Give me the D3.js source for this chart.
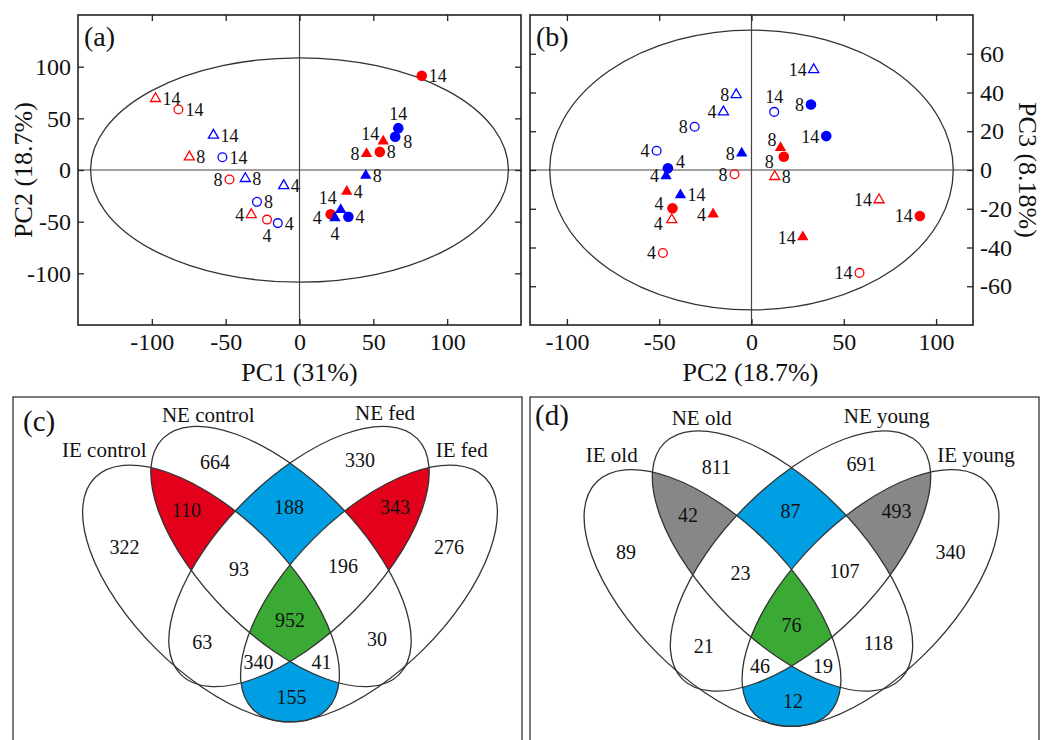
<!DOCTYPE html>
<html>
<head>
<meta charset="utf-8">
<script src="https://cdn.jsdelivr.net/npm/d3@7"></script>
<style>
  body { margin: 0; background: #fff; }
  svg text { font-family: "Liberation Serif", "Times New Roman", serif !important; fill: #111; }
</style>
</head>
<body>
<svg id="chart" width="1041" height="740"></svg>
<script>
// ---- PCA scores (each series: day 4, day 8, day 14) ----
const days = ["4", "8", "14"]
const seriesKeys = [
  "redFilledCircle", "redFilledTriangle", "redOpenCircle", "redOpenTriangle",
  "blueFilledCircle", "blueFilledTriangle", "blueOpenCircle", "blueOpenTriangle"
]
const pc1 = [
  [21.1, 54.4, 82.8], [32, 45.4, 56.7], [-22, -47.4, -82], [-32.7, -74.6, -97.5],
  [33.1, 64.8, 66.9], [24, 44.9, 27.9], [-14.7, -28.8, -52.2], [-10.7, -36.7, -58.3]
]
const pc2 = [
  [-42.8, 17.5, 91.2], [-20.8, 15.7, 27.8], [-48, -9.2, 58.5], [-43.2, 12.6, 69.1],
  [-45.3, 32.2, 40.5], [-46.3, -5.3, -38.5], [-51.4, -30.8, 12.3], [-15.2, -8.3, 33.7]
]
const pc3 = [
  [-19.7, 6.8, -23.7], [-22.8, 11.5, -34.6], [-42.8, -2.2, -53.1], [-25.7, -3.4, -15.4],
  [0.9, 33.8, 17.5], [-3.1, 8.6, -12.9], [9.9, 22.3, 30], [30, 38.9, 51.8]
]
const pcaTicks = [-100, -50, 0, 50, 100]
const pc3Ticks = [-60, -40, -20, 0, 20, 40, 60]

// ---- Venn counts ----
const vennCSets = ["IE control", "NE control", "NE fed", "IE fed"]
const vennCCounts = [664, 330, 110, 188, 343, 322, 276, 93, 196, 952, 63, 30, 340, 41, 155]
const vennDSets = ["IE old", "NE old", "NE young", "IE young"]
const vennDCounts = [811, 691, 42, 87, 493, 89, 340, 23, 107, 76, 21, 118, 46, 19, 12]
// which sets each region belongs to (same order as the counts)
const vennRegions = [[1], [2], [0, 1], [1, 2], [2, 3], [0], [3], [0, 1, 2], [1, 2, 3],
  [0, 1, 2, 3], [0, 2], [1, 3], [0, 2, 3], [0, 1, 3], [0, 3]]

// ---- styles / layout ----
const seriesColor = ["#ff0000", "#ff0000", "#ff0000", "#ff0000", "#0000ff", "#0000ff", "#0000ff", "#0000ff"]
const seriesShape = ["circle", "triangle", "circle", "triangle", "circle", "triangle", "circle", "triangle"]
const seriesFilled = [true, true, false, false, true, true, false, false]
const labelSidesA = [["ld", "r", "r"], ["r", "l", "lt"], ["b", "l", "r"], ["l", "r", "r"],
  ["r", "rb", "t"], ["b", "r", "lT"], ["r", "r", "r"], ["r", "r", "r"]]
const labelSidesB = [["lu", "lb", "l"], ["l", "lt", "l"], ["l", "l", "l"], ["lD", "r", "l"],
  ["rt", "l", "l"], ["l", "l", "r"], ["l", "l", "t"], ["l", "l", "l"]]
const labelOffsets = {
  r: [7, 0, "start"], l: [-7, 0, "end"], t: [0, -15, "middle"], b: [0, 16, "middle"],
  lt: [-4, -8, "end"], lT: [-4, -12, "end"], lb: [-10, 5, "end"], rt: [8, -7, "start"],
  rb: [8, 5, "start"], lu: [-9, -5, "end"], ld: [-9, 3, "end"], lD: [-9, 4, "end"]
}

const svg = d3.select("#chart")
const ink = "#222"
const serif = "'Liberation Serif', 'Times New Roman', serif"

function drawPca(cfg) {
  const g = svg.append("g")
  const x = d3.scaleLinear().domain(cfg.xDomain).range([cfg.left, cfg.right])
  const y = d3.scaleLinear().domain(cfg.yDomain).range([cfg.bottom, cfg.top])

  // zero lines
  g.append("line").attr("x1", x(0)).attr("x2", x(0)).attr("y1", cfg.top).attr("y2", cfg.bottom)
    .attr("stroke", "#444").attr("stroke-width", 1.2)
  g.append("line").attr("x1", cfg.left).attr("x2", cfg.right).attr("y1", y(0)).attr("y2", y(0))
    .attr("stroke", "#444").attr("stroke-width", 1.2)

  // confidence ellipse
  g.append("ellipse").attr("cx", x(0)).attr("cy", y(0))
    .attr("rx", x(cfg.ellipse[0]) - x(0)).attr("ry", y(0) - y(cfg.ellipse[1]))
    .attr("fill", "none").attr("stroke", "#333").attr("stroke-width", 1.3)

  // axes, ticks on all four sides pointing inward
  const fmt = (d) => String(d)
  const axes = [
    [d3.axisBottom(x).tickValues(cfg.xTicks).tickFormat(fmt), `translate(0,${cfg.bottom})`],
    [d3.axisTop(x).tickValues(cfg.xTicks).tickFormat(""), `translate(0,${cfg.top})`],
    [d3.axisLeft(y).tickValues(cfg.yTicks).tickFormat(cfg.yLabelSide === "left" ? fmt : ""), `translate(${cfg.left},0)`],
    [d3.axisRight(y).tickValues(cfg.yTicks).tickFormat(cfg.yLabelSide === "right" ? fmt : ""), `translate(${cfg.right},0)`]
  ]
  axes.forEach(([ax, tr], k) => {
    const a = g.append("g").attr("transform", tr)
      .call(ax.tickSizeInner(-6).tickSizeOuter(0).tickPadding(k === 0 ? 8 : 7))
    a.attr("font-family", serif)
    a.select(".domain").remove()
    a.selectAll("line").attr("stroke", ink).attr("stroke-width", 1.3)
    a.selectAll("text").attr("font-size", 24).style("font-family", serif).attr("fill", "#111")
  })

  g.append("rect").attr("x", cfg.left).attr("y", cfg.top)
    .attr("width", cfg.right - cfg.left).attr("height", cfg.bottom - cfg.top)
    .attr("fill", "none").attr("stroke", ink).attr("stroke-width", 1.6)

  // points
  const pts = []
  seriesKeys.forEach((key, i) => days.forEach((day, j) => {
    pts.push({ i, day, vx: cfg.xVals[i][j], vy: cfg.yVals[i][j], side: cfg.sides[i][j] })
  }))
  g.selectAll("path.pt").data(pts).join("path")
    .attr("class", "pt")
    .attr("transform", (p) => `translate(${x(p.vx)},${y(p.vy)})`)
    .attr("d", (p) => {
      const circ = seriesShape[p.i] === "circle"
      const size = circ ? (seriesFilled[p.i] ? 88 : 60) : (seriesFilled[p.i] ? 56 : 44)
      return d3.symbol(circ ? d3.symbolCircle : d3.symbolTriangle, size)()
    })
    .attr("fill", (p) => (seriesFilled[p.i] ? seriesColor[p.i] : "none"))
    .attr("stroke", (p) => (seriesFilled[p.i] ? "none" : seriesColor[p.i]))
    .attr("stroke-width", 1.3)

  g.selectAll("text.lbl").data(pts).join("text")
    .attr("class", "lbl")
    .attr("x", (p) => x(p.vx) + labelOffsets[p.side][0])
    .attr("y", (p) => y(p.vy) + labelOffsets[p.side][1])
    .attr("dy", "0.36em")
    .attr("text-anchor", (p) => labelOffsets[p.side][2])
    .attr("font-size", 18)
    .text((p) => p.day)

  // titles
  g.append("text").attr("x", (cfg.left + cfg.right) / 2 + cfg.xTitleShift).attr("y", cfg.bottom + 56)
    .attr("text-anchor", "middle").attr("font-size", 26).text(cfg.xTitle)
  g.append("text")
    .attr("transform", `translate(${cfg.yTitleX},${y(0)}) rotate(${cfg.yLabelSide === "left" ? -90 : 90})`)
    .attr("text-anchor", "middle").attr("dy", "0.35em").attr("font-size", 26).text(cfg.yTitle)
  g.append("text").attr("x", cfg.left + 6).attr("y", cfg.top + 31).attr("font-size", 28).text(cfg.tag)
}

drawPca({
  left: 78, right: 521, top: 15, bottom: 325,
  xDomain: [-150, 150], yDomain: [-150, 150], xTicks: pcaTicks, yTicks: pcaTicks,
  xVals: pc1, yVals: pc2, sides: labelSidesA, ellipse: [141.5, 108.6],
  yLabelSide: "left", xTitle: "PC1 (31%)", yTitle: "PC2 (18.7%)", yTitleX: 23, xTitleShift: 0, tag: "(a)"
})
drawPca({
  left: 530, right: 973, top: 15, bottom: 325,
  xDomain: [-120, 120], yDomain: [-80, 80], xTicks: pcaTicks, yTicks: pc3Ticks,
  xVals: pc2, yVals: pc3, sides: labelSidesB, ellipse: [109.3, 72.2],
  yLabelSide: "right", xTitle: "PC2 (18.7%)", yTitle: "PC3 (8.18%)", yTitleX: 1028, xTitleShift: -1, tag: "(b)"
})

// ---- Venn panels ----
const vennEllipses = [
  { cx: -0.79, cy: 0.305, a: 1.64, b: 0.78, rot: 45 },
  { cx: -0.09, cy: -0.065, a: 1.67, b: 0.775, rot: 45 },
  { cx: 0.09, cy: -0.065, a: 1.67, b: 0.775, rot: -45 },
  { cx: 0.79, cy: 0.305, a: 1.64, b: 0.78, rot: -45 }
]
const vennCountPos = [
  [-0.75, -1.01], [0.7, -1.035], [-1.035, -0.53], [-0.01, -0.565], [1.05, -0.565],
  [-1.655, -0.158], [1.59, -0.158], [-0.51, 0.058], [0.53, 0.03], [0, 0.572],
  [-0.877, 0.785], [0.87, 0.755], [-0.315, 0.985], [0.315, 0.985], [0.015, 1.335]
]

function drawVenn(cfg) {
  const g = svg.append("g")
  const vx = d3.scaleLinear().domain([0, 1]).range([cfg.ox, cfg.ox + 100])
  const vy = d3.scaleLinear().domain([0, 1]).range([cfg.oy, cfg.oy + 100])
  const defs = g.append("defs")
  const unit = vx(1) - vx(0)

  const addEllipse = (sel, e) => sel.append("ellipse")
    .attr("cx", vx(e.cx)).attr("cy", vy(e.cy))
    .attr("rx", e.a * unit).attr("ry", e.b * unit)
    .attr("transform", `rotate(${e.rot},${vx(e.cx)},${vy(e.cy)})`)

  vennEllipses.forEach((e, k) => {
    addEllipse(defs.append("clipPath").attr("id", `${cfg.id}-clip-${k}`), e)
  })

  // coloured regions: inside the member sets, outside the rest
  cfg.fills.forEach((color, r) => {
    if (!color) return
    const members = vennRegions[r]
    const mask = defs.append("mask").attr("id", `${cfg.id}-mask-${r}`)
      .attr("maskUnits", "userSpaceOnUse").attr("x", cfg.box[0]).attr("y", cfg.box[1])
      .attr("width", cfg.box[2]).attr("height", cfg.box[3])
    mask.append("rect").attr("x", cfg.box[0]).attr("y", cfg.box[1])
      .attr("width", cfg.box[2]).attr("height", cfg.box[3]).attr("fill", "white")
    vennEllipses.forEach((e, k) => {
      if (!members.includes(k)) addEllipse(mask, e).attr("fill", "black")
    })
    let node = g
    members.forEach((k) => { node = node.append("g").attr("clip-path", `url(#${cfg.id}-clip-${k})`) })
    node.append("rect").attr("x", cfg.box[0]).attr("y", cfg.box[1])
      .attr("width", cfg.box[2]).attr("height", cfg.box[3])
      .attr("fill", color).attr("mask", `url(#${cfg.id}-mask-${r})`)
  })

  vennEllipses.forEach((e) => {
    addEllipse(g, e).attr("fill", "none").attr("stroke", "#333").attr("stroke-width", 1.3)
  })

  g.selectAll("text.count").data(cfg.counts).join("text")
    .attr("class", "count")
    .attr("x", (d, i) => vx(vennCountPos[i][0]))
    .attr("y", (d, i) => vy(vennCountPos[i][1]))
    .attr("dy", "0.35em").attr("text-anchor", "middle").attr("font-size", 20)
    .text((d) => d)

  g.selectAll("text.set").data(cfg.sets).join("text")
    .attr("class", "set")
    .attr("x", (d, i) => vx(cfg.setPos[i][0]))
    .attr("y", (d, i) => vy(cfg.setPos[i][1]))
    .attr("dy", "0.35em").attr("text-anchor", "middle").attr("font-size", 21)
    .text((d) => d)

  g.append("rect").attr("x", cfg.box[0]).attr("y", cfg.box[1])
    .attr("width", cfg.box[2]).attr("height", cfg.box[3])
    .attr("fill", "none").attr("stroke", "#333").attr("stroke-width", 1.3)
  g.append("text").attr("x", cfg.tagPos[0]).attr("y", cfg.tagPos[1]).attr("font-size", 29).text(cfg.tag)
}

const red = "#e3001b", blue = "#009fe3", green = "#3aaa35", grey = "#878787"
drawVenn({
  id: "vc", ox: 290, oy: 563, box: [13, 397, 509, 360],
  sets: vennCSets, counts: vennCCounts,
  setPos: [[-1.857, -1.13], [-0.817, -1.487], [0.95, -1.503], [1.717, -1.13]],
  fills: [null, null, red, blue, red, null, null, null, null, green, null, null, null, null, blue],
  tag: "(c)", tagPos: [23, 431]
})
drawVenn({
  id: "vd", ox: 791.5, oy: 567.5, box: [530, 397, 509, 360],
  sets: vennDSets, counts: vennDCounts,
  setPos: [[-1.798, -1.13], [-0.898, -1.503], [0.952, -1.52], [1.845, -1.13]],
  fills: [null, null, grey, blue, grey, null, null, null, null, green, null, null, null, null, blue],
  tag: "(d)", tagPos: [535, 425]
})
</script>
</body>
</html>
